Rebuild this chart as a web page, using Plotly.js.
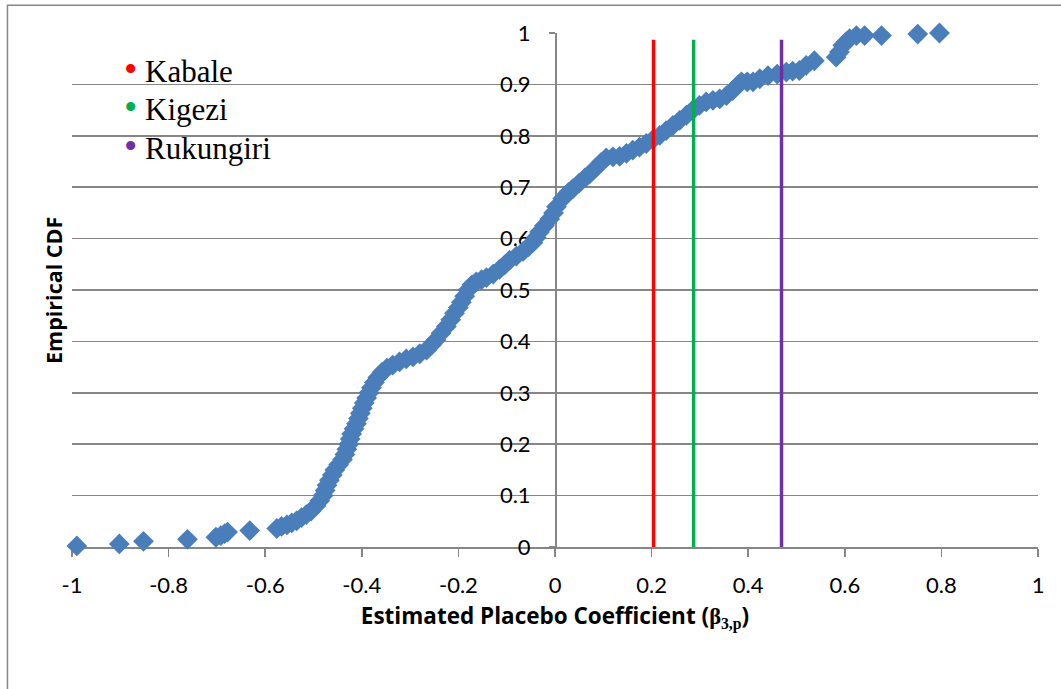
<!DOCTYPE html>
<html><head><meta charset="utf-8">
<script src="https://cdn.plot.ly/plotly-3.0.1.min.js"></script>
<style>html,body{margin:0;padding:0;background:#fff}#chart{width:1061px;height:689px}</style>
</head><body><div id="chart"></div>
<script>
// Empirical CDF of placebo coefficients
const cdfX = [-0.990,-0.902,-0.852,-0.761,-0.702,-0.692,-0.684,-0.678,-0.632,-0.576,
  -0.566,-0.555,-0.545,-0.535,-0.525,-0.515,-0.505,-0.495,-0.487,-0.480,
  -0.476,-0.472,-0.467,-0.461,-0.456,-0.448,-0.440,-0.435,-0.431,-0.427,
  -0.424,-0.421,-0.416,-0.411,-0.407,-0.403,-0.399,-0.395,-0.390,-0.385,
  -0.380,-0.374,-0.367,-0.358,-0.348,-0.336,-0.322,-0.308,-0.294,-0.280,
  -0.266,-0.256,-0.246,-0.236,-0.225,-0.216,-0.208,-0.200,-0.194,-0.187,
  -0.180,-0.172,-0.163,-0.152,-0.142,-0.128,-0.115,-0.104,-0.094,-0.080,
  -0.066,-0.055,-0.046,-0.039,-0.032,-0.022,-0.011,-0.003,0.003,0.016,
  0.028,0.037,0.050,0.062,0.072,0.084,0.095,0.106,0.120,0.134,
  0.148,0.161,0.175,0.189,0.203,0.217,0.230,0.244,0.258,0.272,
  0.285,0.299,0.313,0.327,0.341,0.355,0.368,0.378,0.386,0.398,
  0.410,0.424,0.441,0.460,0.479,0.492,0.506,0.520,0.537,0.582,
  0.589,0.596,0.603,0.610,0.624,0.641,0.676,0.751,0.796];
const cdfY = [0.002,0.006,0.011,0.015,0.019,0.022,0.026,0.029,0.032,0.036,
  0.040,0.043,0.047,0.051,0.057,0.063,0.070,0.080,0.090,0.100,
  0.110,0.120,0.130,0.140,0.150,0.160,0.170,0.180,0.190,0.200,
  0.210,0.220,0.230,0.240,0.250,0.260,0.270,0.280,0.290,0.300,
  0.310,0.320,0.330,0.340,0.348,0.354,0.360,0.366,0.370,0.376,
  0.383,0.393,0.403,0.416,0.429,0.442,0.455,0.466,0.476,0.488,
  0.500,0.510,0.516,0.520,0.524,0.531,0.540,0.549,0.558,0.566,
  0.575,0.584,0.592,0.602,0.613,0.625,0.638,0.650,0.662,0.678,
  0.690,0.697,0.708,0.718,0.726,0.737,0.748,0.757,0.759,0.760,
  0.766,0.772,0.778,0.785,0.793,0.801,0.810,0.820,0.830,0.840,
  0.850,0.859,0.866,0.869,0.872,0.878,0.888,0.898,0.905,0.905,
  0.905,0.911,0.917,0.920,0.924,0.926,0.927,0.937,0.946,0.953,
  0.963,0.976,0.983,0.989,0.995,0.995,0.995,0.998,1.000];

// Actual district estimates (vertical reference lines)
const districtNames = ['Kabale', 'Kigezi', 'Rukungiri'];
const districtBeta = [0.204, 0.287, 0.469];
const refLineY = [0, 0.987];

const xTickVals = [-1, -0.8, -0.6, -0.4, -0.2, 0, 0.2, 0.4, 0.6, 0.8, 1];
const xTickText = ['-1', '-0.8', '-0.6', '-0.4', '-0.2', '0', '0.2', '0.4', '0.6', '0.8', '1'];
const yTickVals = [0, 0.1, 0.2, 0.3, 0.4, 0.5, 0.6, 0.7, 0.8, 0.9, 1];
const yTickText = ['0', '0.1', '0.2', '0.3', '0.4', '0.5', '0.6', '0.7', '0.8', '0.9', '1'];

const districtColors = ['#FF0000', '#00B050', '#7030A0'];
const gridGray = '#868686';

const traces = [{
  x: cdfX, y: cdfY, type: 'scatter', mode: 'markers',
  marker: {symbol: 'diamond', size: 16, color: '#4A7EBB', line: {width: 0}},
  cliponaxis: false, showlegend: false, hoverinfo: 'x+y'
}];
districtNames.forEach((n, i) => {
  traces.push({
    x: [districtBeta[i], districtBeta[i]], y: refLineY, type: 'scatter', mode: 'lines',
    name: n, line: {color: districtColors[i], width: 3.5}, showlegend: false
  });
});

const annotations = [{
  xref: 'paper', yref: 'paper', x: -0.0197, y: 0.5, xanchor: 'center', yanchor: 'middle',
  text: '<b>Empirical CDF</b>', textangle: -90, showarrow: false,
  font: {family: 'Open Sans', size: 21.5, color: '#000'}
}];
districtNames.forEach((n, i) => {
  annotations.push({
    xref: 'paper', yref: 'paper', x: 0.052, y: 0.930 - i * 0.0747,
    xanchor: 'left', yanchor: 'middle', showarrow: false,
    text: '<span style="color:' + districtColors[i] + ';font-size:38px">•</span> ' + n,
    font: {family: 'Liberation Serif', size: 31, color: '#000'}
  });
});

const layout = {
  width: 1061, height: 689,
  margin: {l: 72, r: 23, t: 33, b: 142},
  paper_bgcolor: '#fff', plot_bgcolor: '#fff',
  font: {family: 'Lato', color: '#000'},
  showlegend: false,
  xaxis: {
    range: [-1, 1], tickmode: 'array', tickvals: xTickVals, ticktext: xTickText,
    showgrid: false, zeroline: false, showline: true, linecolor: gridGray, linewidth: 1.5,
    ticks: 'outside', ticklen: 8, tickwidth: 1.5, tickcolor: gridGray,
    tickfont: {family: 'Lato', size: 22, color: '#000'}, ticklabelstandoff: 10,
    layer: 'below traces',
    title: {
      text: '<b>Estimated Placebo Coefficient (<span style="font-family:Liberation Serif">β<sub>3,p</sub></span>)</b>',
      font: {family: 'Open Sans', size: 22.5, color: '#000'}, standoff: 11
    }
  },
  yaxis: {
    range: [0, 1], anchor: 'free', position: 0.5, side: 'left',
    tickmode: 'array', tickvals: yTickVals, ticktext: yTickText,
    showgrid: true, gridcolor: gridGray, gridwidth: 1.5,
    zeroline: false, showline: true, linecolor: gridGray, linewidth: 1.5,
    ticks: 'outside', ticklen: 6, tickwidth: 1.5, tickcolor: gridGray,
    tickfont: {family: 'Lato', size: 22, color: '#000'}, ticklabelstandoff: 14,
    layer: 'below traces'
  },
  shapes: [{
    type: 'rect', xref: 'paper', yref: 'paper',
    x0: -0.0668, x1: 1.3, y0: -0.6, y1: 1.054,
    line: {color: gridGray, width: 1.5}, fillcolor: 'rgba(0,0,0,0)', layer: 'above'
  }],
  annotations: annotations
};

Plotly.newPlot('chart', traces, layout, {displayModeBar: false, staticPlot: true});
</script>
</body></html>
